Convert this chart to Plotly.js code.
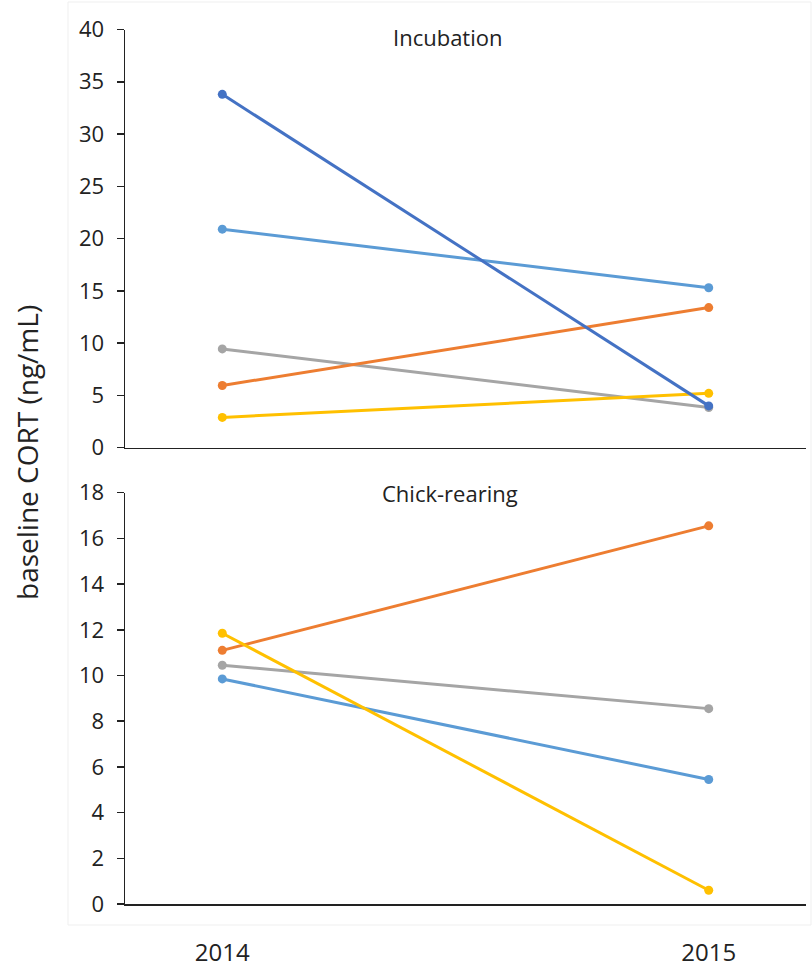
<!DOCTYPE html>
<html>
<head>
<meta charset="utf-8">
<script src="https://cdn.plot.ly/plotly-3.0.1.min.js"></script>
<style>html,body{margin:0;padding:0;background:#fff;}#chart{width:812px;height:968px;}</style>
</head>
<body>
<div id="chart"></div>
<script>
// Data
const years = [2014, 2015];
const panelTitles = ["Incubation", "Chick-rearing"];
const yTitle = "baseline CORT (ng/mL)";

// Incubation (top panel)
const incDarkBlue  = [33.8, 4.0];
const incLightBlue = [20.9, 15.3];
const incGray      = [9.45, 3.85];
const incOrange    = [5.95, 13.4];
const incYellow    = [2.9, 5.2];

// Chick-rearing (bottom panel)
const chickOrange    = [11.1, 16.55];
const chickGray      = [10.45, 8.55];
const chickLightBlue = [9.85, 5.45];
const chickYellow    = [11.85, 0.6];

const C = {darkBlue:'#4472C4', lightBlue:'#5B9BD5', orange:'#ED7D31', gray:'#A5A5A5', yellow:'#FFC000'};

function tr(y, color, xa, ya){
  return {x: years, y: y, mode:'lines+markers', xaxis: xa, yaxis: ya,
    line:{color: color, width: 3}, marker:{color: color, size: 9}, showlegend:false, hoverinfo:'skip'};
}

const data = [
  tr(incLightBlue, C.lightBlue, 'x', 'y'),
  tr(incGray, C.gray, 'x', 'y'),
  tr(incOrange, C.orange, 'x', 'y'),
  tr(incYellow, C.yellow, 'x', 'y'),
  tr(incDarkBlue, C.darkBlue, 'x', 'y'),
  tr(chickLightBlue, C.lightBlue, 'x2', 'y2'),
  tr(chickGray, C.gray, 'x2', 'y2'),
  tr(chickOrange, C.orange, 'x2', 'y2'),
  tr(chickYellow, C.yellow, 'x2', 'y2')
];

const PH = 904; // plot area height in px (top margin 0, bottom margin 64)
const py = p => (PH - p) / PH;
const px = p => (p - 125) / 681;
const fontFam = '"Open Sans", Lato, sans-serif';
const txt = '#222';
const axisY = {
  showgrid:false, zeroline:false, showline:true, linecolor:'#222', linewidth:1.5,
  ticks:'outside', ticklen:7, tickcolor:'#222', tickwidth:1.5, ticklabelstandoff: 8,
  tickfont:{family: fontFam, size:22, color:txt}, fixedrange:true
};
const axisX = {
  range:[2013.8, 2015.2], showgrid:false, zeroline:false, showline:true,
  linecolor:'#222', linewidth:1.5, ticks:'', fixedrange:true
};

const layout = {
  width: 812, height: 968,
  margin:{l:125, r:6, t:0, b:64},
  paper_bgcolor:'#fff', plot_bgcolor:'#fff',
  font:{family: fontFam, color:txt},
  xaxis: Object.assign({}, axisX, {anchor:'y', showticklabels:false, tickvals: years}),
  yaxis: Object.assign({}, axisY, {domain:[py(447.7), py(29.5)], range:[0,40], tickvals:[0,5,10,15,20,25,30,35,40], anchor:'x'}),
  xaxis2: Object.assign({}, axisX, {anchor:'y2', tickvals: years, ticktext: years.map(String),
    tickfont:{family: fontFam, size:24, color:txt}, ticklabelstandoff: 27}),
  yaxis2: Object.assign({}, axisY, {domain:[0, py(492.7)], range:[0,18], tickvals:[0,2,4,6,8,10,12,14,16,18], anchor:'x2'}),
  annotations:[
    {text: panelTitles[0], xref:'paper', yref:'paper', x:px(447.5), y:py(37), showarrow:false,
      font:{family: fontFam, size:22, color:txt}, xanchor:'center', yanchor:'middle'},
    {text: panelTitles[1], xref:'paper', yref:'paper', x:px(450), y:py(493), showarrow:false,
      font:{family: fontFam, size:22, color:txt}, xanchor:'center', yanchor:'middle'},
    {text: yTitle, xref:'paper', yref:'paper', x:px(27), y:py(453), showarrow:false, textangle:-90,
      font:{family: fontFam, size:28, color:txt}, xanchor:'center', yanchor:'middle'}
  ],
  shapes:[
    {type:'rect', xref:'paper', yref:'paper', x0:px(68), x1:px(811), y0:py(925), y1:py(2),
      line:{color:'#efefef', width:1}, layer:'below'}
  ]
};

Plotly.newPlot('chart', data, layout, {displayModeBar:false, staticPlot:true});
</script>
</body>
</html>
